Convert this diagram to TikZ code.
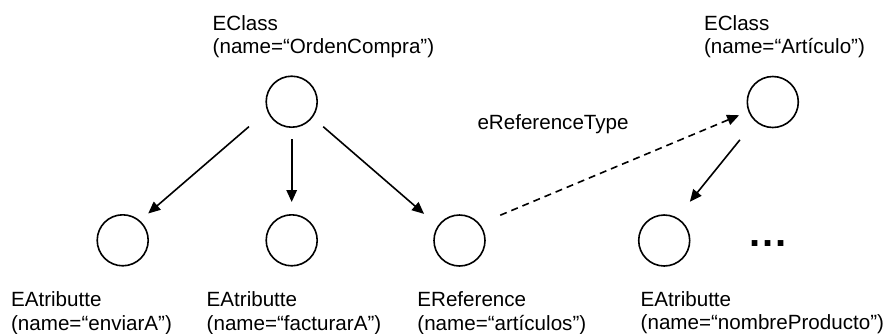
\documentclass[tikz,border=0pt]{standalone}
\usepackage{fontspec}
\setmainfont{Liberation Sans}
\usetikzlibrary{arrows.meta}
\begin{document}
\begin{tikzpicture}[x=1pt,y=-1pt,
  obj/.style={circle,draw,line width=1.6pt,minimum size=51pt,inner sep=0pt,outer sep=0pt},
  lbl/.style={anchor=base west,inner sep=0pt,outer sep=0pt,font=\fontsize{20.6}{23.3}\selectfont},
  link/.style={line width=1.6pt,-{Triangle[length=12pt,width=10.5pt]}},
  reflink/.style={link,dash pattern=on 7pt off 5pt}]
\useasboundingbox (0,0) rectangle (889,333);

% model elements
\node[obj] (orden)    at (291.7,101.7) {};
\node[obj] (enviar)   at (122.7,240.3) {};
\node[obj] (facturar) at (291.7,240.3) {};
\node[obj] (arts)     at (459.5,240.5) {};
\node[obj] (nombre)   at (664.2,240.5) {};
\node[obj] (articulo) at (772.8,102.0) {};

% labels
\newcommand\twolines[2]{\begin{tabular}[t]{@{}l@{}}#1\\#2\end{tabular}}
\node[lbl] (lorden)    at (212.7,30.0)  {\twolines{EClass}{(name=“OrdenCompra”)}};
\node[lbl] (larticulo) at (704.1,30.0)  {\twolines{EClass}{(name=“Artículo”)}};
\node[lbl] (lenviar)   at (11.1,306.7)  {\twolines{EAtributte}{(name=“enviarA”)}};
\node[lbl] (lfacturar) at (206.7,306.7) {\twolines{EAtributte}{(name=“facturarA”)}};
\node[lbl] (larts)     at (417.4,306.9) {\twolines{EReference}{(name=“artículos”)}};
\node[lbl] (lnombre)   at (640.7,306.5) {\twolines{EAtributte}{(name=“nombreProducto”)}};
\node[lbl] (lreftype)  at (477.5,129.3) {eReferenceType};
\node[anchor=base west,inner sep=0pt,font=\fontsize{40}{40}\selectfont\bfseries]
  (more) at (749.7,246.7) {.\kern1.6pt.\kern1.6pt.};

% containment links
\draw[link,shorten <=24.8pt,shorten >=11.6pt] (orden.200) -- (enviar.49);
\draw[link,shorten <=12.1pt,shorten >=12.8pt] (orden.south) -- (facturar.north);
\draw[link,shorten <=14.8pt,shorten >=18.9pt] (orden.323) -- (arts.146);
\draw[link,shorten <=24.7pt,shorten >=21.2pt] (articulo.227.5) -- (nombre.61);

% reference type
\draw[reflink,shorten <=23pt,shorten >=10.7pt] (arts.40.7) -- (articulo.201);
\end{tikzpicture}
\end{document}
